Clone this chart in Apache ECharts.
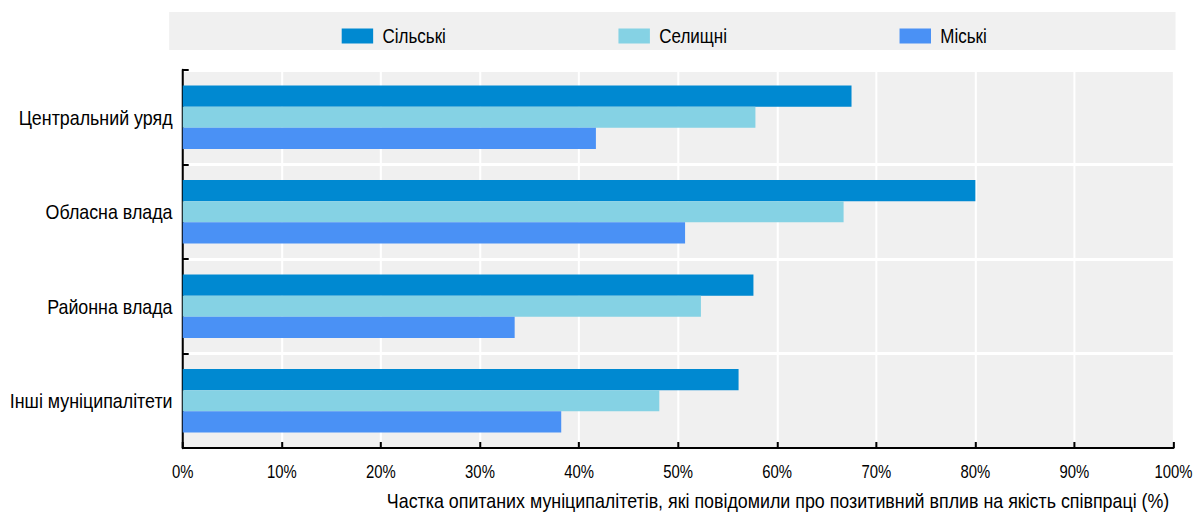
<!DOCTYPE html>
<html>
<head>
<meta charset="utf-8">
<script src="https://cdn.jsdelivr.net/npm/echarts@6/dist/echarts.min.js"></script>
<style>
  html, body { margin: 0; padding: 0; background: #ffffff; overflow: hidden; }
  #wrap { width: 1195px; height: 514px; overflow: hidden; }
  /* The chart is laid out on a wider canvas and squeezed horizontally,
     which gives the condensed lettering of the original design. */
  #chart { width: 1406px; height: 514px; transform: scaleX(0.85); transform-origin: 0 0; }
</style>
</head>
<body>
<div id="wrap"><div id="chart"></div></div>
<script>
// Respondent groups, top to bottom
const categories = ['Центральний уряд', 'Обласна влада', 'Районна влада', 'Інші муніципалітети'];
const seriesNames = ['Сільські', 'Селищні', 'Міські'];

// Share of municipalities reporting a positive effect, %
const rural = [67.5, 80.0, 57.6, 56.1];
const township = [57.8, 66.7, 52.3, 48.1];
const urban = [41.7, 50.7, 33.5, 38.2];

const colors = ['#0089d1', '#85d2e4', '#4a91f5'];
const axisName = 'Частка опитаних муніципалітетів, які повідомили про позитивний вплив на якість співпраці (%)';
const FONT = '"Liberation Sans", Arial, sans-serif';

const chart = echarts.init(document.getElementById('chart'), null, { renderer: 'svg' });

const values = [rural, township, urban];

chart.setOption({
  animation: false,
  textStyle: { fontFamily: FONT },
  graphic: [
    {
      type: 'rect',
      left: 199, top: 12,
      shape: { width: 1184, height: 38 },
      style: { fill: '#f0f0f0' },
      z: 0
    }
  ],
  legend: {
    data: seriesNames,
    left: 397,
    top: 21,
    itemWidth: 37,
    itemHeight: 15,
    itemGap: 203,
    icon: 'rect',
    textStyle: { fontFamily: FONT, fontSize: 20, color: '#000', padding: [0, 0, 0, 6] }
  },
  grid: {
    left: 215, right: 24, top: 70, bottom: 66,
    show: true,
    backgroundColor: '#f0f0f0',
    borderWidth: 0
  },
  xAxis: {
    type: 'value',
    min: 0, max: 100, interval: 10,
    axisLine: { show: true, lineStyle: { color: '#000', width: 2.2 } },
    axisTick: { show: true, inside: true, length: 6, lineStyle: { color: '#000', width: 2.4 } },
    splitLine: { show: true, lineStyle: { color: '#ffffff', width: 2.4 } },
    axisLabel: { formatter: '{value}%', color: '#000', fontSize: 17.5, margin: 15, fontFamily: FONT },
    name: axisName,
    nameLocation: 'end',
    nameGap: 0,
    nameTextStyle: {
      color: '#000', fontSize: 21, fontFamily: FONT,
      align: 'right', verticalAlign: 'top',
      padding: [42, 5, 0, 0]
    }
  },
  yAxis: {
    type: 'category',
    data: categories,
    inverse: true,
    axisLine: { show: true, lineStyle: { color: '#000', width: 2.4 } },
    axisTick: { show: true, inside: true, length: 7, lineStyle: { color: '#000', width: 2 } },
    splitLine: { show: true, lineStyle: { color: '#ffffff', width: 3 } },
    axisLabel: { color: '#000', fontSize: 21, margin: 12, fontFamily: FONT }
  },
  series: seriesNames.map((name, i) => ({
    name: name,
    type: 'bar',
    data: values[i],
    barGap: '0%',
    barCategoryGap: '33%',
    itemStyle: { color: colors[i] },
    emphasis: { disabled: true }
  }))
});
</script>
</body>
</html>
